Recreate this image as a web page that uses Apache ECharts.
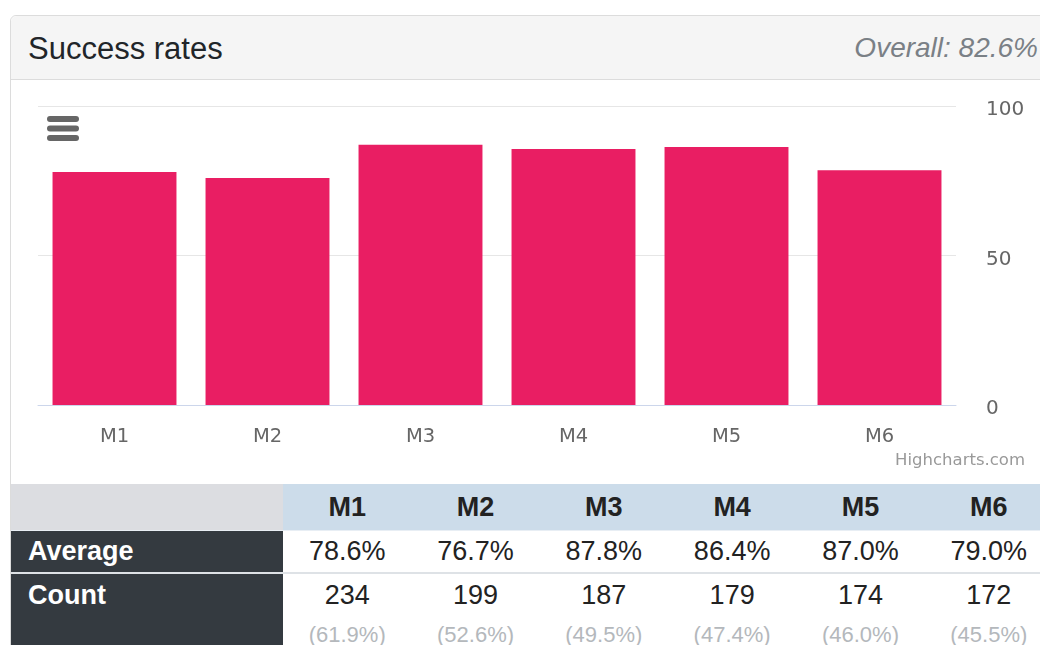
<!doctype html>
<html lang="en">
  <head>
    <meta charset="UTF-8" />
    <title>Success rates</title>
    <script src="https://cdn.jsdelivr.net/npm/echarts@6/dist/echarts.min.js"></script>
    <style>
      html, body {
        margin: 0;
        padding: 0;
        width: 1040px;
        height: 645px;
        overflow: hidden;
        background: #fff;
        font-family: 'Liberation Sans', Arial, sans-serif;
      }

      .card {
        position: absolute;
        left: 10px;
        top: 15px;
        width: 1100px;
        height: 700px;
        border: 1px solid #dcdcdc;
        border-radius: 6px;
        box-sizing: border-box;
      }

      .card-header {
        height: 63px;
        background: #f5f5f5;
        border-bottom: 1px solid #dcdcdc;
        border-radius: 6px 6px 0 0;
        position: relative;
      }

      .card-title {
        position: absolute;
        left: 17px;
        top: 15px;
        margin: 0;
        font-size: 31px;
        font-weight: normal;
        color: #212529;
      }

      .card-note {
        position: absolute;
        right: 71px;
        top: 16px;
        font-size: 28px;
        font-style: italic;
        color: #7a8086;
      }

      #chart {
        position: absolute;
        left: 0;
        top: 80px;
        width: 1040px;
        height: 404px;
      }

      table.stats {
        position: absolute;
        left: 11px;
        top: 484px;
        width: 1042px;
        border-collapse: collapse;
        table-layout: fixed;
      }

      table.stats td,
      table.stats th {
        padding: 0;
        text-align: center;
        color: #222;
      }

      table.stats th {
        height: 46px;
        font-size: 27px;
        font-weight: bold;
        background: #ccdcea;
        border-bottom: 1px solid #e8eef4;
      }

      table.stats th.corner {
        background: #dcdde1;
      }

      table.stats .row-head {
        background: #343a40;
        color: #fff;
        font-weight: bold;
        font-size: 27px;
        text-align: left;
        padding-left: 17px;
        box-sizing: border-box;
      }

      table.stats tr.avg td {
        height: 41px;
        font-size: 27px;
        border-bottom: 2px solid #dee2e6;
      }

      table.stats tr.cnt td {
        height: 80px;
        font-size: 27px;
        vertical-align: top;
        line-height: 42px;
      }

      .share {
        display: block;
        font-size: 22px;
        color: #b4b8bc;
        line-height: 38px;
      }
    </style>
  </head>
  <body>
    <div class="card">
      <div class="card-header">
        <h2 class="card-title">Success rates</h2>
        <span class="card-note" id="overall"></span>
      </div>
    </div>

    <div id="chart"></div>

    <table class="stats" id="stats"></table>

    <script>
      // chart data
      const categories = ['M1', 'M2', 'M3', 'M4', 'M5', 'M6'];
      const barValues = [77.9, 75.9, 87.0, 85.6, 86.3, 78.5];
      const yTicks = { min: 0, max: 100, interval: 50 };

      // table data
      const averages = [78.6, 76.7, 87.8, 86.4, 87.0, 79.0];
      const counts = [234, 199, 187, 179, 174, 172];
      const countShares = [61.9, 52.6, 49.5, 47.4, 46.0, 45.5];
      const overall = 82.6;

      document.getElementById('overall').textContent =
        'Overall: ' + overall.toFixed(1) + '%';

      // build the table under the chart
      const colWidth = 128.3;
      let html = '<colgroup><col style="width:272px">';
      categories.forEach(() => {
        html += '<col style="width:' + colWidth + 'px">';
      });
      html += '</colgroup>';
      html += '<tr><th class="corner"></th>';
      categories.forEach((c) => {
        html += '<th>' + c + '</th>';
      });
      html += '</tr><tr class="avg"><td class="row-head">Average</td>';
      averages.forEach((v) => {
        html += '<td>' + v.toFixed(1) + '%</td>';
      });
      html += '</tr><tr class="cnt"><td class="row-head">Count</td>';
      counts.forEach((v, i) => {
        html +=
          '<td>' + v + '<span class="share">(' +
          countShares[i].toFixed(1) + '%)</span></td>';
      });
      html += '</tr>';
      document.getElementById('stats').innerHTML = html;

      const chart = echarts.init(document.getElementById('chart'), null, {
        renderer: 'canvas',
      });

      const axisFont = 'DejaVu Sans, sans-serif';

      chart.setOption({
        animation: false,
        grid: { left: 38, right: 84, top: 26, bottom: 79 },
        xAxis: {
          type: 'category',
          data: categories,
          axisLine: { lineStyle: { color: '#ccd6eb', width: 1 } },
          axisTick: { show: false },
          axisLabel: {
            color: '#666',
            fontSize: 19.5,
            fontFamily: axisFont,
            margin: 22,
          },
        },
        yAxis: {
          type: 'value',
          position: 'right',
          min: yTicks.min,
          max: yTicks.max,
          interval: yTicks.interval,
          axisLine: { show: false },
          axisTick: { show: false },
          splitLine: { lineStyle: { color: '#e6e6e6', width: 1 } },
          axisLabel: {
            margin: 30,
            formatter: (v) => '{v|' + v + '}',
            rich: {
              v: {
                color: '#666',
                fontSize: 20,
                fontFamily: axisFont,
                padding: [8, 0, 0, 0],
              },
            },
          },
        },
        series: [
          {
            type: 'bar',
            data: barValues,
            barCategoryGap: '19%',
            itemStyle: { color: '#e91e63' },
          },
        ],
        graphic: [
          // export menu icon
          {
            type: 'group',
            left: 47,
            top: 36,
            children: [0, 1, 2].map((i) => ({
              type: 'line',
              shape: { x1: 3, y1: 3 + i * 9.5, x2: 29, y2: 3 + i * 9.5 },
              style: { stroke: '#666', lineWidth: 6, lineCap: 'round' },
            })),
          },
          // credits
          {
            type: 'text',
            right: 15,
            top: 372,
            style: {
              text: 'Highcharts.com',
              fill: '#999',
              font: '16.5px DejaVu Sans, sans-serif',
            },
          },
        ],
      });
    </script>
  </body>
</html>
